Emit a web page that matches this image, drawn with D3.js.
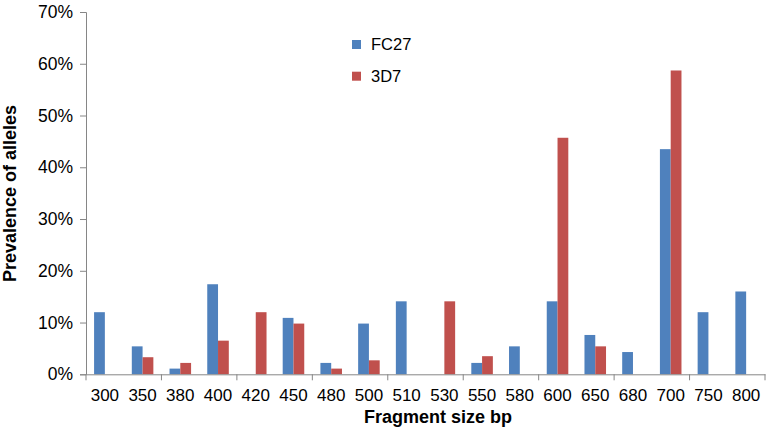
<!DOCTYPE html>
<html><head><meta charset="utf-8">
<script src="https://cdn.jsdelivr.net/npm/d3@7"></script>
<style>body{margin:0;background:#fff}svg{display:block}text{font-family:"Liberation Sans",Arial,sans-serif}</style>
</head><body>
<svg id="c" width="767" height="432"></svg>
<script>
const categories = ["300","350","380","400","420","450","480","500","510","530","550","580","600","650","680","700","750","800"];
const fc27 = [12.0,5.4,1.1,17.4,0,10.9,2.2,9.8,14.1,0,2.2,5.4,14.1,7.6,4.3,43.5,12.0,16.0];
const d3d7 = [0,3.3,2.2,6.5,12.0,9.8,1.1,2.7,0,14.1,3.5,0,45.7,5.4,0,58.7,0,0];
const seriesNames = ["FC27","3D7"];
const colors = ["#4F81BD","#C0504D"];
const yTicks = [0,10,20,30,40,50,60,70];

(function(){
const svg = d3.select("#c");
const mLeft = 86, mRight = 765, mTop = 12, mBottom = 374.3;
const x = d3.scaleBand().domain(categories).range([mLeft, mRight]);
const y = d3.scaleLinear().domain([0,70]).range([mBottom, mTop]);
const bw = x.bandwidth()/3.5;
const series = [fc27, d3d7];

series.forEach((vals, si) => {
  svg.append("g").selectAll("rect").data(categories).join("rect")
    .attr("x", d => x(d) + x.bandwidth()/2 - bw + si*bw)
    .attr("width", bw)
    .attr("y", (d,i) => y(vals[i]))
    .attr("height", (d,i) => mBottom - y(vals[i]))
    .attr("fill", colors[si]);
});

const ya = svg.append("g").attr("transform", `translate(${mLeft},0)`)
  .call(d3.axisLeft(y).tickValues(yTicks).tickFormat(d => d + "%").tickSize(6).tickPadding(7));
ya.select(".domain").attr("stroke", "#868686");
ya.selectAll(".tick line").attr("stroke", "#868686");
ya.selectAll(".tick text").attr("font-size", 17.5).attr("fill", "#000").attr("font-family", "Liberation Sans, Arial, sans-serif");

const xa = svg.append("g").attr("transform", `translate(0,${mBottom})`)
  .call(d3.axisBottom(x).tickSize(0).tickPadding(15));
xa.select(".domain").attr("stroke", "#868686");
xa.selectAll(".tick text").attr("font-size", 17).attr("fill", "#000").attr("font-family", "Liberation Sans, Arial, sans-serif");
const bounds = d3.range(0, categories.length + 1, 2).map(i => mLeft + i * x.step());
svg.append("g").selectAll("line").data(bounds).join("line")
  .attr("x1", d => d).attr("x2", d => d)
  .attr("y1", mBottom).attr("y2", mBottom + 6)
  .attr("stroke", "#868686");

svg.append("text").attr("x", 438).attr("y", 423).attr("text-anchor", "middle")
  .attr("font-size", 18).attr("font-weight", "bold").text("Fragment size bp");
svg.append("text").attr("transform", "translate(16,193.5) rotate(-90)").attr("text-anchor", "middle")
  .attr("font-size", 18).attr("font-weight", "bold").text("Prevalence of alleles");

seriesNames.forEach((n, i) => {
  const g = svg.append("g").attr("transform", `translate(352,${40 + i*31.7})`);
  g.append("rect").attr("width", 9).attr("height", 9).attr("fill", colors[i]);
  g.append("text").attr("x", 19).attr("y", 10).attr("font-size", 16.5).text(n);
});
})();
</script>
</body></html>
